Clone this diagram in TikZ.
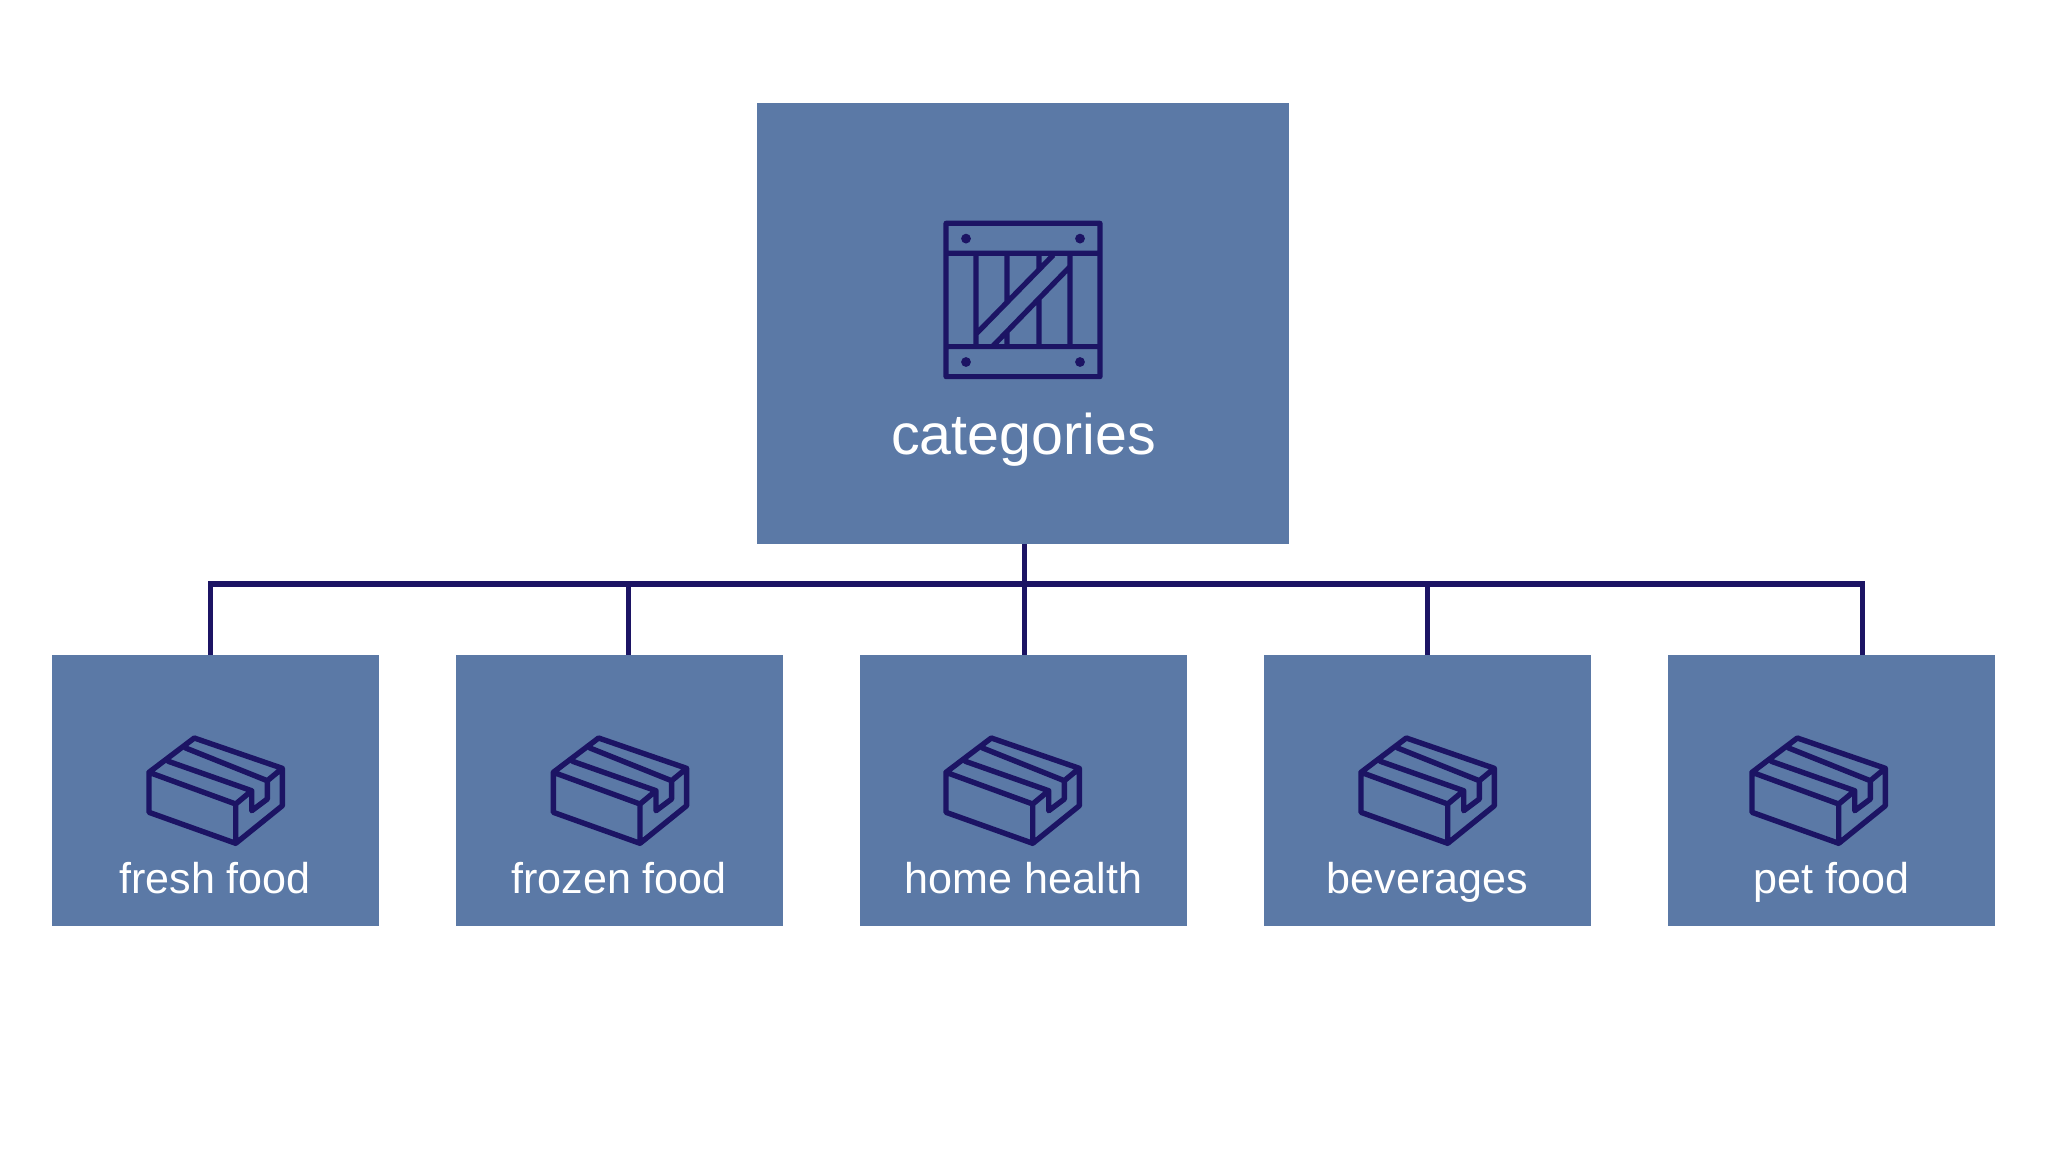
\documentclass[tikz,border=0pt]{standalone}
\usepackage{fontspec}
\setmainfont{Liberation Sans}
\definecolor{boxblue}{HTML}{5B79A6}
\definecolor{inkblue}{HTML}{1C1464}
\tikzset{
  catbox/.style={fill=boxblue,minimum width=5.31cm,minimum height=4.41cm,inner sep=0pt,outer sep=0pt},
  leafbox/.style={fill=boxblue,minimum width=3.27cm,minimum height=2.71cm,inner sep=0pt,outer sep=0pt},
  cattext/.style={text=white,font=\fontsize{16.3}{20}\selectfont,anchor=base,inner sep=0pt},
  leaftext/.style={text=white,font=\fontsize{12.25}{15}\selectfont,anchor=base,inner sep=0pt},
  bus/.style={draw=inkblue,line width=0.05cm},
  crate/.pic={
    \draw[inkblue,line width=0.052cm,line join=round]
    (0,0) rectangle (154,153.3)
    (0,30) to (154,30)
    (0,123.3) to (154,123.3)
    (30,30) to (30,123.3)
    (124,30) to (124,123.3)
    (61,30) to (61,78) (61,108) to (61,123.3)
    (93,30) to (93,46) (93,75) to (93,123.3)
    (30.7,110) to (107.3,31.7)
    (47.3,122.3) to (124,43.3);
    \fill[inkblue] (20,15.3) circle (4.9) (134,15.3) circle (4.9)
    (20,138.7) circle (4.9) (134,138.7) circle (4.9);
  },
  carton/.pic={
    \draw[inkblue,line width=0.054cm,line join=round,line cap=round]
    (0,34.3) to (45.3,0) to (133.3,30.3) to (133.3,67.7) to (86.7,105.3) to (0,74.3) to cycle
    (0,34.3) to (86.7,66) to (86.7,105.3)
    (86.7,66) to (102.7,52.7) to (102.7,72.7) to (118.3,61) to (118.3,42.7) to (133.3,30.3)
    (19.3,23.3) to (102.7,52.7)
    (36.7,10) to (118.3,42.7);
  }
}
\begin{document}
\begin{tikzpicture}[x=0.01cm,y=-0.01cm]
  \useasboundingbox (0,0) rectangle (2046,1169);
%
  \node [catbox] (categories) at (1023,323.5) {};
  \node [leafbox] (fresh) at (215.5,790.5) {};
  \node [leafbox] (frozen) at (619.5,790.5) {};
  \node [leafbox] (home) at (1023.5,790.5) {};
  \node [leafbox] (drinks) at (1427.5,790.5) {};
  \node [leafbox] (pet) at (1831.5,790.5) {};
%
  \coordinate (busfresh) at (210.5,584);
  \coordinate (busfrozen) at (628,584);
  \coordinate (bushome) at (1024.5,584);
  \coordinate (busdrinks) at (1427.5,584);
  \coordinate (buspet) at (1862,584);
%
  \draw [bus] (categories.south -| bushome) to (home.north -| bushome);
  \draw [bus] (fresh.north -| busfresh) to (busfresh);
  \draw [bus] (frozen.north -| busfrozen) to (busfrozen);
  \draw [bus] (drinks.north -| busdrinks) to (busdrinks);
  \draw [bus] (pet.north -| buspet) to (buspet);
  \draw [bus,line width=0.056cm,line cap=rect] (busfresh) to (buspet);
%
  \pic at (946,223.3) {crate};
  \pic at (149,738) {carton};
  \pic at (553.3,738) {carton};
  \pic at (946,738) {carton};
  \pic at (1361,738) {carton};
  \pic at (1752,738) {carton};
%
  \node [cattext] (categoriestext) at (1023.5,454) {categories};
  \node [leaftext] (freshtext) at (215,893) {fresh food};
  \node [leaftext] (frozentext) at (619,893) {frozen food};
  \node [leaftext] (hometext) at (1023.5,893) {home health};
  \node [leaftext] (drinkstext) at (1427.5,893) {beverages};
  \node [leaftext] (pettext) at (1831.5,893) {pet food};
\end{tikzpicture}
\end{document}
